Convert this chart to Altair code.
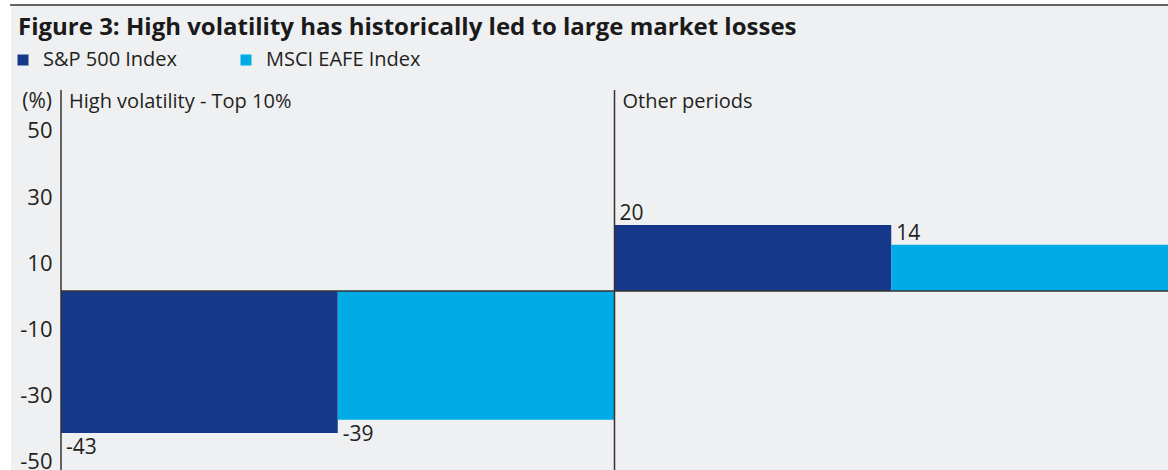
import altair as alt
import pandas as pd

# ---- data ----
periods = ["High volatility - Top 10%", "Other periods"]
series = ["S&P 500 Index", "MSCI EAFE Index"]
sp500 = [-43, 20]
msci = [-39, 14]
y_ticks = [50, 30, 10, -10, -30, -50]
colors = ["#15388a", "#00abe6"]

title_text = "Figure 3: High volatility has historically led to large market losses"

rows = []
keys = []
for i, p in enumerate(periods):
    for s, vals in zip(series, [sp500, msci]):
        k = f"{i}|{s}"
        keys.append(k)
        rows.append({"key": k, "period": p, "series": s, "value": vals[i],
                     "label": str(vals[i])})
df = pd.DataFrame(rows)
panels = pd.DataFrame({"key": [f"{i}|{series[0]}" for i in range(len(periods))],
                       "period": periods})

W, H = 1107, 380
FONT = "Open Sans"
TXT = "#231f20"
LINE = "#333333"

xscale = alt.Scale(domain=keys, paddingInner=0, paddingOuter=0)
yscale = alt.Scale(domain=[-54.2, 60.9], nice=False, zero=False)

base = alt.Chart(df)

bg = alt.Chart(pd.DataFrame({"a": [0]})).mark_rect(color="#eff0f2").encode(
    x=alt.value(-50), x2=alt.value(W + 5), y=alt.value(-85), y2=alt.value(H + 5))
topline = alt.Chart(pd.DataFrame({"a": [0]})).mark_rule(color=LINE, strokeWidth=1.5).encode(
    x=alt.value(-51), x2=alt.value(W + 5), y=alt.value(-85))

bars = base.mark_bar().encode(
    x=alt.X("key:N", scale=xscale, axis=None),
    y=alt.Y("value:Q", scale=yscale,
            axis=alt.Axis(values=y_ticks, domain=False, ticks=False, grid=False,
                          labelPadding=9, labelOffset=5, labelFontSize=22,
                          labelExpr="datum.value + ''", zindex=2,
                          labelFont=FONT, labelColor=TXT, title=None)),
    color=alt.Color("series:N", sort=series,
                    scale=alt.Scale(domain=series, range=colors),
                    legend=alt.Legend(orient="none", legendX=-48, legendY=-40,
                                      direction="horizontal", title=None,
                                      symbolType="square", symbolSize=121,
                                      symbolStrokeWidth=0, labelFontSize=20,
                                      labelFont=FONT, labelColor=TXT,
                                      columnPadding=58, labelOffset=10, zindex=2)),
)

zero = alt.Chart(pd.DataFrame({"y": [0]})).mark_rule(color=LINE, strokeWidth=1.5).encode(
    y=alt.Y("y:Q", scale=yscale))

vlines = alt.Chart(panels).mark_rule(color=LINE, strokeWidth=1.5).encode(
    x=alt.X("key:N", scale=xscale, bandPosition=0, axis=None),
    y=alt.value(0), y2=alt.value(H))

plabels = alt.Chart(panels).mark_text(align="left", baseline="middle", dx=8,
                                      fontSize=20, font=FONT, color=TXT).encode(
    x=alt.X("key:N", scale=xscale, bandPosition=0, axis=None),
    y=alt.value(12), text="period:N")

unit = alt.Chart(pd.DataFrame({"t": ["(%)"]})).mark_text(
    align="right", baseline="middle", fontSize=21, font=FONT, color=TXT).encode(
    x=alt.value(-9), y=alt.value(12), text="t:N")

neg = base.transform_filter("datum.value < 0").mark_text(
    align="left", baseline="top", dx=5, dy=4, fontSize=21, font=FONT, color=TXT).encode(
    x=alt.X("key:N", scale=xscale, bandPosition=0, axis=None),
    y=alt.Y("value:Q", scale=yscale), text="label:N")

pos = base.transform_filter("datum.value >= 0").mark_text(
    align="left", baseline="bottom", dx=5, dy=-1, fontSize=21, font=FONT, color=TXT).encode(
    x=alt.X("key:N", scale=xscale, bandPosition=0, axis=None),
    y=alt.Y("value:Q", scale=yscale), text="label:N")

chart = alt.layer(bg, topline, bars, zero, vlines, plabels, unit, neg, pos).properties(
    width=W, height=H,
    title=alt.TitleParams(title_text, anchor="start", frame="group", dx=-43, offset=-55,
                          baseline="alphabetic", zindex=2,
                          fontSize=24, fontWeight="bold", font=FONT, color="#1a1a1a"),
    autosize=alt.AutoSizeParams(type="none"),
    padding={"left": 61, "top": 90, "right": 0, "bottom": 0},
    background="white",
).configure_view(stroke=None)

chart.save("out.html", embed_options={"renderer": "svg", "actions": False})
